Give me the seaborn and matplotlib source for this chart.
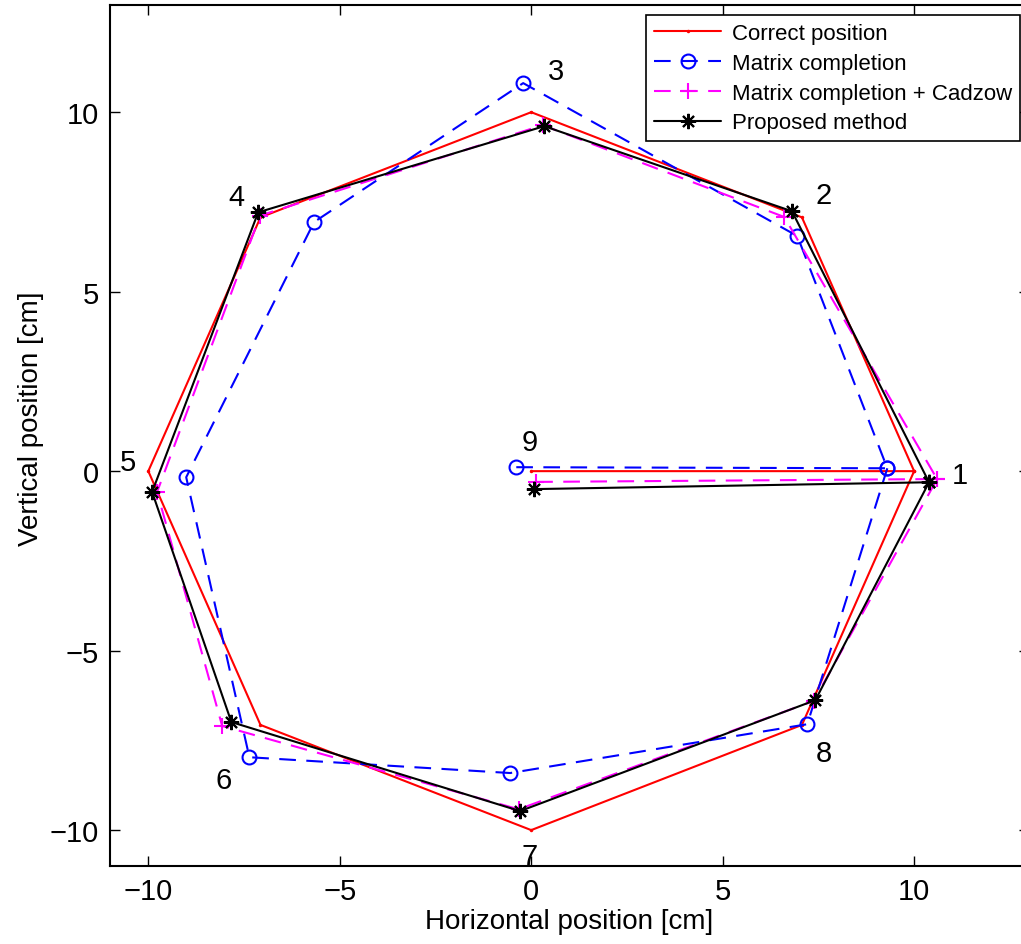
import numpy as np
import pandas as pd
import matplotlib
matplotlib.use("Agg")
import matplotlib.pyplot as plt
import seaborn as sns

# point order along the drawn path: 9 -> 1 -> 2 ... -> 8 -> 1
order = [9, 1, 2, 3, 4, 5, 6, 7, 8, 1]

# estimated positions of points 1..9 (cm)
correct_x = [10, 7.07, 0, -7.07, -10, -7.07, 0, 7.07, 0]
correct_y = [0, 7.07, 10, 7.07, 0, -7.07, -10, -7.07, 0]

mc_x = [9.30, 6.95, -0.21, -5.67, -9.01, -7.36, -0.55, 7.21, -0.39]
mc_y = [0.08, 6.55, 10.81, 6.94, -0.17, -7.97, -8.41, -7.05, 0.11]

cad_x = [10.60, 6.61, 0.30, -7.08, -9.77, -8.07, -0.33, 7.38, 0.13]
cad_y = [-0.22, 7.08, 9.64, 7.12, -0.58, -7.10, -9.42, -6.40, -0.30]

prop_x = [10.39, 6.81, 0.34, -7.13, -9.90, -7.83, -0.29, 7.42, 0.08]
prop_y = [-0.31, 7.24, 9.61, 7.21, -0.58, -6.99, -9.47, -6.38, -0.50]

# where the point numbers are written
lab_x = [11.2, 7.63, 0.65, -7.70, -10.52, -8.04, -0.03, 7.65, -0.03]
lab_y = [-0.10, 7.69, 11.14, 7.63, 0.25, -8.60, -10.72, -7.86, 0.81]


def path(xs, ys):
    return pd.DataFrame({"x": [xs[i - 1] for i in order],
                         "y": [ys[i - 1] for i in order]})


sns.set_theme(style="ticks")
plt.rcParams['font.family'] = ['Liberation Sans', 'DejaVu Sans']
for k in ["text.color", "axes.labelcolor", "xtick.color", "ytick.color"]:
    plt.rcParams[k] = "black"

fig = plt.figure(figsize=(10.21, 9.45), dpi=100)
ax = fig.add_axes([110 / 1021, 78 / 945, 919 / 1021, 861.5 / 945])

sns.lineplot(data=path(correct_x, correct_y), x="x", y="y", sort=False, estimator=None,
             ax=ax, color="#ff0000", lw=1.5, marker=".", markersize=5,
             markeredgewidth=0, label="Correct position")
sns.lineplot(data=path(mc_x, mc_y), x="x", y="y", sort=False, estimator=None,
             ax=ax, color="#0000ff", lw=1.5, linestyle=(0, (8, 5)), marker="o",
             markersize=10, markerfacecolor="none", markeredgecolor="#0000ff",
             markeredgewidth=1.5, label="Matrix completion")
sns.lineplot(data=path(cad_x, cad_y), x="x", y="y", sort=False, estimator=None,
             ax=ax, color="#ff00ff", lw=1.5, linestyle=(0, (8, 5)), marker="+",
             markersize=12, markeredgecolor="#ff00ff", markeredgewidth=1.5,
             label="Matrix completion + Cadzow")
sns.lineplot(data=path(prop_x, prop_y), x="x", y="y", sort=False, estimator=None,
             ax=ax, color="black", lw=1.5, marker=(8, 2, 0), markersize=11,
             markeredgecolor="black", markeredgewidth=1.5, label="Proposed method")

for i in range(9):
    ax.text(lab_x[i], lab_y[i], str(i + 1), fontsize=21, ha="center", va="center")

ax.set_xlim(-11, 13)
ax.set_ylim(-11, 13)
ax.set_xticks([-10, -5, 0, 5, 10])
ax.set_yticks([-10, -5, 0, 5, 10])
ax.tick_params(direction="in", length=7, width=1, labelsize=21,
               top=True, right=True, pad=8)
for s in ax.spines.values():
    s.set_linewidth(1.5)
    s.set_color("black")
ax.set_xlabel("Horizontal position [cm]", fontsize=20, labelpad=2)
ax.set_ylabel("Vertical position [cm]", fontsize=20)
ax.yaxis.set_label_coords(-0.072, 0.52)

leg = ax.legend(loc="upper right", bbox_to_anchor=(1020 / 1021, 929 / 945),
                bbox_transform=fig.transFigure, borderaxespad=0, fontsize=16,
                handlelength=3.0, labelspacing=0.4, fancybox=False,
                framealpha=1, borderpad=0.35, handletextpad=0.5)
leg.get_frame().set_edgecolor("black")
leg.get_frame().set_linewidth(1.2)

fig.savefig("out.png", dpi=100)
